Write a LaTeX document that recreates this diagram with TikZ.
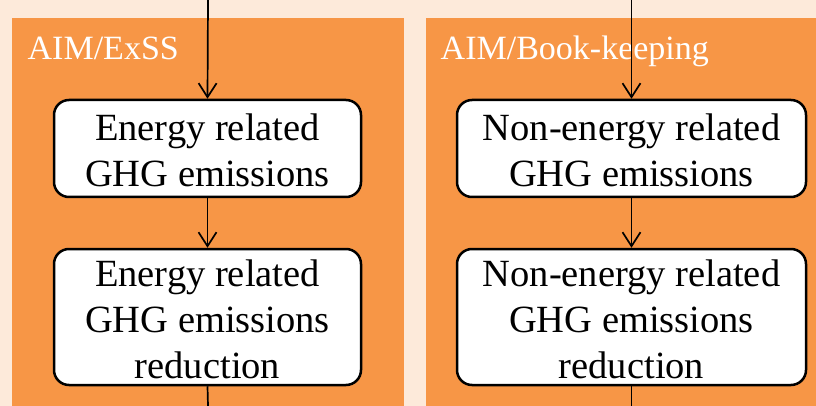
\documentclass[tikz,border=0pt]{standalone}
\usepackage{fontspec}
\setmainfont{Liberation Serif}
\usetikzlibrary{arrows.meta}
\definecolor{peach}{RGB}{253,234,218}
\definecolor{panelorange}{RGB}{247,150,70}
\newcommand{\topstrut}{\rule{0pt}{31pt}}
\tikzset{
  panel/.style={fill=panelorange, draw=none},
  procbox/.style={draw=black, fill=white, line width=2.5pt, rounded corners=15pt,
    inner sep=0pt, align=center, font=\fontsize{38.5}{46}\selectfont},
  paneltitle/.style={text=white, anchor=base west, inner sep=0pt, font=\fontsize{34}{40}\selectfont},
  flow/.style={line width=1.7pt, -{Straight Barb[length=14pt,width=18pt,line width=1.7pt]}},
  flowplain/.style={line width=1.7pt}
}
\begin{document}
\begin{tikzpicture}[x=1pt,y=-1pt]
  \fill[peach] (0,0) rectangle (816,406);
  \useasboundingbox (0,0) rectangle (816,406);
  \fill[panel] (12,18) rectangle (404,406);
  \fill[panel] (426,18) rectangle (816,406);
  \node[paneltitle] (t1) at (27.5,60) {AIM/ExSS};
  \node[paneltitle] (t2) at (440.5,60) {AIM/Book-keeping};

  \node[procbox, minimum width=307pt, minimum height=97pt] (e1) at (207.5,148.5) {\topstrut Energy related\\GHG emissions};
  \node[procbox, minimum width=307pt, minimum height=136pt] (e2) at (207.5,317) {\topstrut Energy related\\GHG emissions\\reduction};
  \node[procbox, minimum width=349pt, minimum height=97pt] (n1) at (631.5,148.5) {\topstrut Non-energy related\\GHG emissions};
  \node[procbox, minimum width=349pt, minimum height=136pt] (n2) at (631.5,317) {\topstrut Non-energy related\\GHG emissions\\reduction};

  \coordinate (etop) at (208,0);
  \coordinate (ebot) at (208,406);
  \coordinate (ntop) at (631.5,0);
  \coordinate (nbot) at (631.5,406);

  \draw[flow] (etop) -- (e1.north);
  \draw[flow] (e1) -- (e2);
  \draw[flowplain] (e2.south) -- (ebot);
  \draw[flow] (ntop) -- (n1.north);
  \draw[flow] (n1) -- (n2);
  \draw[flowplain] (n2.south) -- (nbot);
\end{tikzpicture}
\end{document}
